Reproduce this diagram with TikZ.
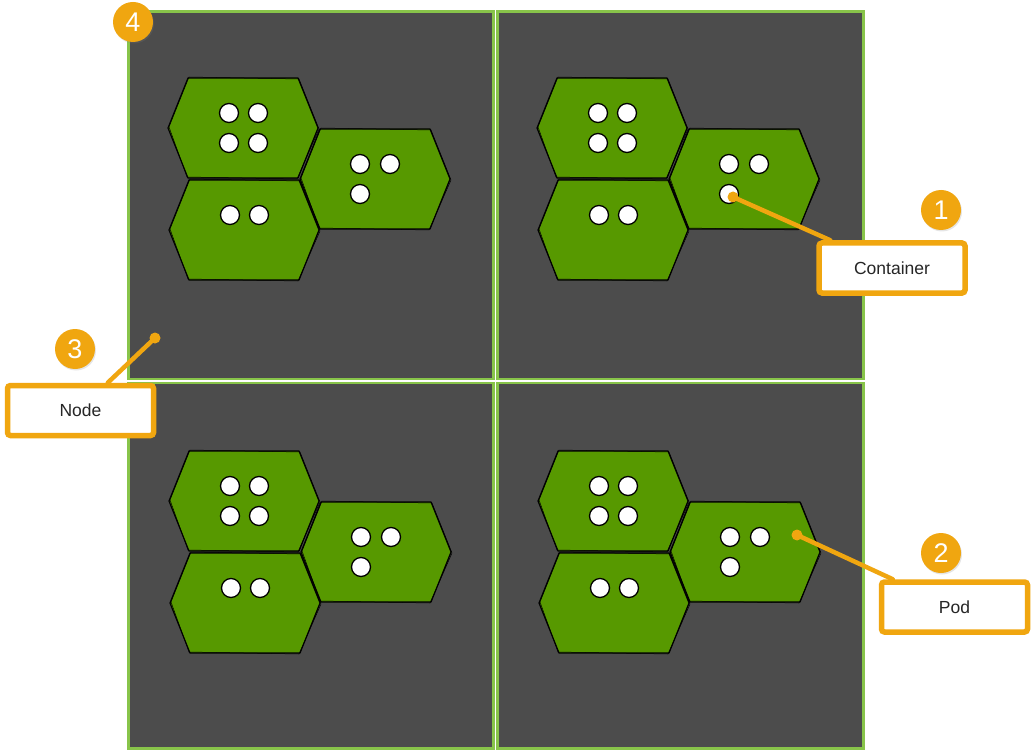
\documentclass[tikz,border=0pt]{standalone}
\usepackage{fontspec}
\setmainfont{Liberation Sans}
\usetikzlibrary{calc,shadows}
\definecolor{panelbg}{RGB}{76,76,76}
\definecolor{panelborder}{RGB}{136,196,74}
\definecolor{podgreen}{RGB}{87,153,0}
\definecolor{callorange}{RGB}{240,166,16}
\pgfdeclarelayer{back}
\pgfdeclarelayer{mid}
\pgfsetlayers{back,mid,main}
\begin{document}
\begin{tikzpicture}[x=1pt,y=-1pt,
  panel/.style={fill=panelbg, draw=panelborder, line width=2.6pt},
  hexa/.style={fill=podgreen, draw=black, line width=1.2pt, line join=round},
  hexsketch/.style={draw=black, line width=0.5pt, line join=round},
  cont/.style={circle, fill=white, draw=black, line width=1.3pt, minimum size=19pt, inner sep=0pt},
  badge/.style={circle, fill=callorange, text=white, font=\fontsize{27}{27}\selectfont,
    minimum size=40pt, inner sep=0pt, drop shadow={shadow xshift=1pt, shadow yshift=-1.5pt, opacity=0.2}},
  callbox/.style={draw=callorange, line width=5.5pt, fill=white, rounded corners=3pt,
    minimum width=146pt, minimum height=50pt, font=\fontsize{17.5}{20}\selectfont, text=black!85,
    drop shadow={shadow xshift=1.5pt, shadow yshift=-2pt, opacity=0.2}},
  leader/.style={draw=callorange, line width=4.5pt, line cap=round},
  pinpt/.style={circle, fill=callorange, minimum size=11pt, inner sep=0pt},
  hexpod/.pic={\path[hexa] (-75,0) -- (-55,-50) -- (55,-50) -- (75,0) -- (55,50) -- (-55,50) -- cycle;
               \path[hexsketch] (-74,-1) -- (-54,-51) -- (56,-49) -- (76,1) -- (54,51) -- (-56,49) -- cycle;},
  podcluster/.pic={
    \pic at (0,0) {hexpod};
    \pic at (1,102) {hexpod};
    \pic at (132,51) {hexpod};
    \foreach \dx/\dy [count=\k] in {-14/-15,15/-15,-14/15,15/15,-13/87,16/87,117/36,147/36,117/66}
      \node[cont] (c\k) at (\dx,\dy) {};
  }
]
\useasboundingbox (0,0) rectangle (1035,751);

\begin{pgfonlayer}{back}
\fill[white] (0,0) rectangle (1035,751);
% panels (cluster nodes)
\path[panel] (128.5,11.5) rectangle (493.5,379);
\path[panel] (497.5,11.5) rectangle (863.5,379);
\path[panel] (128.5,383) rectangle (493.5,748.5);
\path[panel] (497.5,383) rectangle (863.5,748.5);
% pods with containers
\pic (tl) at (243,128) {podcluster};
\pic (tr) at (612,128) {podcluster};
\pic (bl) at (244,501) {podcluster};
\pic (br) at (613,501) {podcluster};
\end{pgfonlayer}

% callout boxes
\node[callbox] (cbox) at (892,268) {Container};
\node[callbox] (nbox) at (80.5,410.5) {Node};
\node[callbox] (pbox) at (954.5,607) {Pod};

% leader pins
\node[pinpt] (cpin) at (733,197) {};
\node[pinpt] (npin) at (155,338) {};
\node[pinpt] (ppin) at (797,535) {};

\begin{pgfonlayer}{mid}
\draw[leader] (cpin.center) -- ($(cbox.north west)+(14,0)$);
\draw[leader] (npin.center) -- ($(nbox.north west)+(103,0)$);
\draw[leader] (ppin.center) -- ($(pbox.north west)+(14,0)$);
\end{pgfonlayer}

% badges
\node[badge] (b4) at (133,22) {4};
\node[badge] (b1) at (941,210) {1};
\node[badge] (b2) at (941,553) {2};
\node[badge] (b3) at (75,349) {3};
\end{tikzpicture}
\end{document}
